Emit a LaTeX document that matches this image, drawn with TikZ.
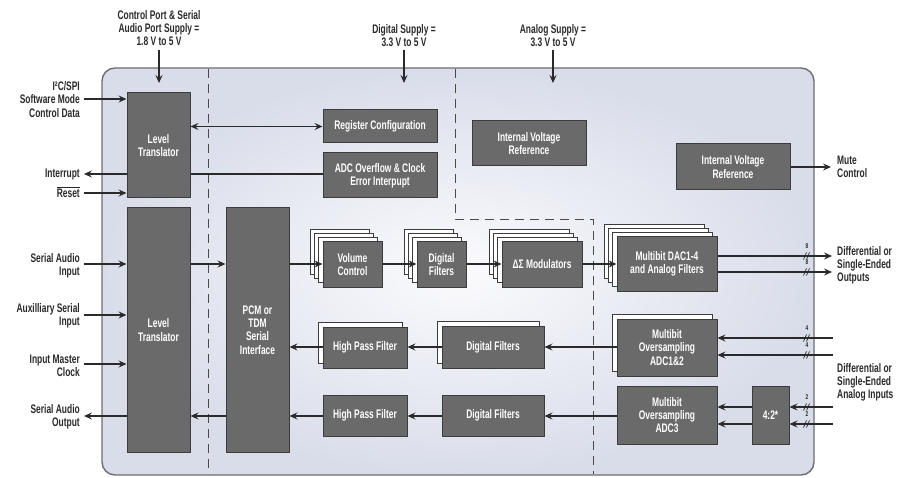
\documentclass[tikz,border=0pt]{standalone}
\usepackage{fontspec}
\setmainfont{Liberation Sans}[FakeStretch=0.68]
\usetikzlibrary{arrows.meta,calc}
\definecolor{bgedge}{HTML}{D9DDEA}
\definecolor{bgmid}{HTML}{FBFBFD}
\definecolor{blkfill}{HTML}{6A6A6A}
\definecolor{blkedge}{HTML}{3C3C3C}
\definecolor{ink}{HTML}{2A2A2A}
\definecolor{chipedge}{HTML}{6E6E72}
\newcommand\stk[5]{%
  \foreach \k in {#5,...,1}{%
    \draw[backl] ({#1-#3/2-\k*4.3},{#2-#4/2-\k*4.3}) rectangle +(#3,#4);}}
\newcommand\busm[4]{%
  \draw[ink, line width=0.7pt] (#2-3.5,#3+3.5) -- (#2-0.5,#3-3.5)
                               (#2-0.5,#3+3.5) -- (#2+2.5,#3-3.5);
  \node[font=\bfseries\fontsize{7}{7}\selectfont, text=ink, inner sep=0pt] (#1) at (#2,#3-9.5) {#4};}
\begin{document}
\begin{tikzpicture}[x=1pt,y=-1pt,
  font=\fontsize{12.4}{13.2}\selectfont\bfseries,
  blk/.style={draw=blkedge, line width=1pt, fill=blkfill, text=white, align=center, inner sep=1pt},
  backl/.style={draw=blkedge, line width=0.9pt, fill=white},
  conn/.style={draw=ink, line width=1.7pt},
  arr/.style={conn, -{Stealth[length=8pt,width=7pt,inset=3pt]}},
  darr/.style={conn, {Stealth[length=8pt,width=7pt,inset=3pt]}-{Stealth[length=8pt,width=7pt,inset=3pt]}},
  lbl/.style={text=ink, align=right, inner sep=0pt},
  lbll/.style={text=ink, align=left, inner sep=0pt},
  lblc/.style={text=ink, align=center, inner sep=0pt},
  dsh/.style={draw=ink!85, line width=0.8pt, dash pattern=on 9pt off 6pt}]
\useasboundingbox (0,0) rectangle (915,478);
\fill[white] (0,0) rectangle (915,478);
% chip body
\shade[inner color=bgmid, outer color=bgedge, rounded corners=13pt] (102,68) rectangle (814,475);
\draw[chipedge, line width=1.4pt, rounded corners=13pt] (102,68) rectangle (814,475);
% domain separators
\draw[dsh] (208,69) -- (208,474);
\draw[dsh] (455,69) -- (455,219) -- (593,219) -- (593,474);

% blocks
\node[blk, minimum width=63pt, minimum height=105pt] (LT1) at (158.5,145.5) {Level\\Translator};
\node[blk, minimum width=63pt, minimum height=244pt] (LT2) at (158.5,330) {Level\\Translator};
\node[blk, minimum width=63pt, minimum height=244pt] (PCM) at (257.5,330) {PCM or\\TDM\\Serial\\Interface};
\node[blk, minimum width=114pt, minimum height=33pt] (RC) at (380,126.5) {Register Configuration};
\node[blk, minimum width=114pt, minimum height=45pt] (ADCO) at (380,175.5) {ADC Overflow \& Clock\\Error Interpupt};
\node[blk, minimum width=114pt, minimum height=45pt] (IVR1) at (529,143.5) {Internal Voltage\\Reference};
\node[blk, minimum width=114pt, minimum height=46pt] (IVR2) at (733,167) {Internal Voltage\\Reference};

\stk{352.5}{264.5}{59}{45}{3}
\node[blk, minimum width=59pt, minimum height=45pt] (VC) at (352.5,264.5) {Volume\\Control};
\stk{441.5}{264.5}{49}{45}{3}
\node[blk, minimum width=49pt, minimum height=45pt] (DF1) at (441.5,264.5) {Digital\\Filters};
\stk{542}{264.5}{80}{45}{3}
\node[blk, minimum width=80pt, minimum height=45pt] (DSM) at (542,264.5) {ΔΣ Modulators};
\stk{667}{264}{100}{54}{3}
\node[blk, minimum width=100pt, minimum height=54pt] (DAC) at (667,264) {Multibit DAC1-4\\and Analog Filters};

\stk{365}{347.5}{84}{41}{1}
\node[blk, minimum width=84pt, minimum height=41pt] (HPF1) at (365,347.5) {High Pass Filter};
\stk{493}{347}{102}{42}{1}
\node[blk, minimum width=102pt, minimum height=42pt] (DF2) at (493,347) {Digital Filters};
\stk{667}{347.5}{100}{57}{1}
\node[blk, minimum width=100pt, minimum height=57pt] (ADC12) at (667,347.5) {Multibit\\Oversampling\\ADC1\&2};

\node[blk, minimum width=84pt, minimum height=41pt] (HPF2) at (365,415.5) {High Pass Filter};
\node[blk, minimum width=102pt, minimum height=41pt] (DF3) at (493,415.5) {Digital Filters};
\node[blk, minimum width=100pt, minimum height=58pt] (ADC3) at (667,415) {Multibit\\Oversampling\\ADC3};
\node[blk, minimum width=37pt, minimum height=58pt] (MUX) at (770.5,415) {4:2*};

% outside labels
\node[lblc] (tCP) at (159,28) {Control Port \& Serial\\Audio Port Supply =\\1.8 V to 5 V};
\node[lblc] (tDS) at (404,35.5) {Digital Supply =\\3.3 V to 5 V};
\node[lblc] (tAS) at (553,35.5) {Analog Supply =\\3.3 V to 5 V};
\coordinate (eCP) at (159,83);
\coordinate (eDS) at (404,83);
\coordinate (eAS) at (553,83);
\coordinate (sCP) at (159,50);
\coordinate (sDS) at (404,50);
\coordinate (sAS) at (553,50);

\node[lbl, anchor=east] (tI2C) at (80,99.5) {I²C/SPI\\Software Mode\\Control Data};
\node[lbl, anchor=east] (tInt) at (80,174.5) {Interrupt};
\node[lbl, anchor=east] (tRst) at (80,192) {$\overline{\hbox{Reset}}$};
\node[lbl, anchor=east] (tSAI) at (80,265.5) {Serial Audio\\Input};
\node[lbl, anchor=east] (tAux) at (80,316) {Auxilliary Serial\\Input};
\node[lbl, anchor=east] (tMCK) at (80,366) {Input Master\\Clock};
\node[lbl, anchor=east] (tSAO) at (80,417) {Serial Audio\\Output};
\node[lbll, anchor=west] (tMute) at (837,166.5) {Mute\\Control};
\node[lbll, anchor=west] (tOut) at (837,265.5) {Differential or\\Single-Ended\\Outputs};
\node[lbll, anchor=west] (tIn) at (837,382.5) {Differential or\\Single-Ended\\Analog Inputs};

\coordinate (cI2C) at (84,99);
\coordinate (cInt) at (84,174);
\coordinate (cRst) at (84,193);
\coordinate (cSAI) at (84,264);
\coordinate (cAux) at (84,315);
\coordinate (cMCK) at (84,364);
\coordinate (cSAO) at (84,416);
\coordinate (cMute) at (831,167);
\coordinate (o1) at (832,256);
\coordinate (o2) at (832,272);
\coordinate (i1) at (833,338);
\coordinate (i2) at (833,355);
\coordinate (i3) at (833,407);
\coordinate (i4) at (833,424);
\coordinate (rowA) at (0,347);
\coordinate (rowB) at (0,416);
\coordinate (rowT) at (0,264);

% connectors
\draw[arr] (sCP) -- (eCP);
\draw[arr] (sDS) -- (eDS);
\draw[arr] (sAS) -- (eAS);
\draw[arr] (cI2C) -- (LT1.west |- cI2C);
\draw[arr] (LT1.west |- cInt) -- (cInt);
\draw[arr] (cRst) -- (LT1.west |- cRst);
\draw[darr] (LT1.east |- RC.west) -- (RC.west);
\draw[conn] (ADCO.west |- cInt) -- (LT1.east |- cInt);

\draw[arr] (cSAI) -- (LT2.west |- cSAI);
\draw[arr] (cAux) -- (LT2.west |- cAux);
\draw[arr] (cMCK) -- (LT2.west |- cMCK);
\draw[arr] (LT2.west |- cSAO) -- (cSAO);
\draw[arr] (LT2.east |- rowT) -- (PCM.west |- rowT);
\draw[arr] (PCM.west |- rowB) -- (LT2.east |- rowB);

\draw[arr] (PCM.east |- rowT) -- (VC.west |- rowT);
\draw[arr] (VC.east |- rowT) -- (DF1.west |- rowT);
\draw[arr] (DF1.east |- rowT) -- (DSM.west |- rowT);
\draw[arr] (DSM.east |- rowT) -- (DAC.west |- rowT);
\draw[arr] (DAC.east |- o1) -- (o1);
\draw[arr] (DAC.east |- o2) -- (o2);

\draw[arr] (HPF1.west |- rowA) -- (PCM.east |- rowA);
\draw[arr] (DF2.west |- rowA) -- (HPF1.east |- rowA);
\draw[arr] (ADC12.west |- rowA) -- (DF2.east |- rowA);
\draw[arr] (i1) -- (ADC12.east |- i1);
\draw[arr] (i2) -- (ADC12.east |- i2);

\draw[arr] (HPF2.west |- rowB) -- (PCM.east |- rowB);
\draw[arr] (DF3.west |- rowB) -- (HPF2.east |- rowB);
\draw[arr] (ADC3.west |- rowB) -- (DF3.east |- rowB);
\draw[arr] (MUX.west |- i3) -- (ADC3.east |- i3);
\draw[arr] (MUX.west |- i4) -- (ADC3.east |- i4);
\draw[arr] (i3) -- (MUX.east |- i3);
\draw[arr] (i4) -- (MUX.east |- i4);

\draw[arr] (IVR2.east |- cMute) -- (cMute);

% bus width marks
\busm{b1}{807}{256}{8}
\busm{b2}{807}{272}{8}
\busm{b3}{807}{338}{4}
\busm{b4}{807}{355}{4}
\busm{b5}{807}{407}{2}
\busm{b6}{807}{424}{2}
\end{tikzpicture}
\end{document}
